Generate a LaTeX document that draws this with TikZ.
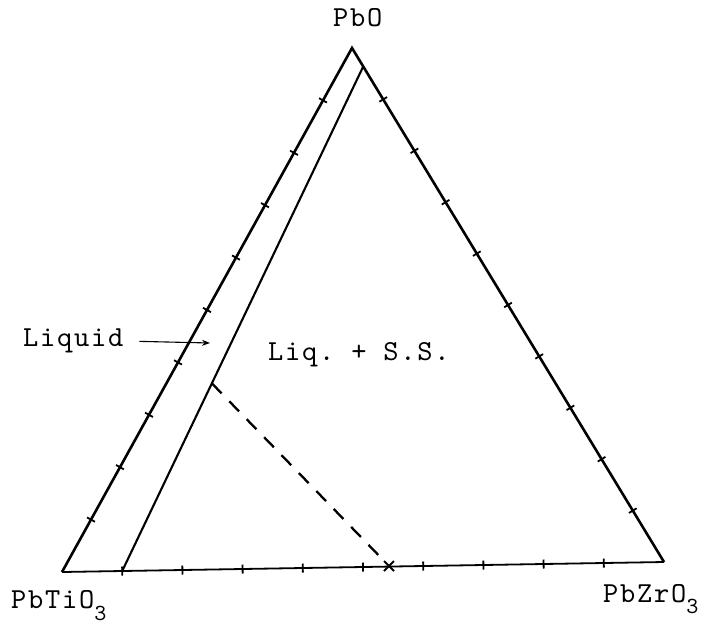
\documentclass[tikz,border=0pt]{standalone}
\usepackage{fontspec}
\setmonofont{lmmono10-regular.otf}[LetterSpace=6]
\usetikzlibrary{calc,arrows.meta}
\newcommand{\twfont}[1]{\ttfamily\fontsize{#1}{#1}\selectfont}
\begin{document}
\begin{tikzpicture}[x=1pt,y=-1pt,
  side/.style={line width=2.6pt,line join=miter},
  base/.style={line width=1.8pt},
  inner/.style={line width=2.1pt},
  tickmark/.style={line width=1.8pt},
  lbl/.style={inner sep=0pt,anchor=base west,font=\twfont{29}}]
\useasboundingbox (0,0) rectangle (706,629);
\fill[white] (0,0) rectangle (706,629);
% vertices
\coordinate (top) at (352,48);
\coordinate (bl) at (62,572);
\coordinate (br) at (664,562);
% triangle
\draw[side] (bl) -- (top) -- (br);
\draw[base] (bl) -- (br);
% inner boundary line
\coordinate (itop) at ($(top)!0.036!(br)$);
\coordinate (ibot) at ($(bl)!0.1!(br)$);
\draw[inner] (itop) -- (ibot);
% ticks
\foreach \k in {1,...,9}{
  \coordinate (pl) at ($(bl)!\k/10!(top)$);
  \draw[tickmark] ($(pl)!4.5pt!90:(top)$) -- ($(pl)!4.5pt!-90:(top)$);
  \coordinate (pr) at ($(top)!\k/10!(br)$);
  \draw[tickmark] ($(pr)!4.5pt!90:(br)$) -- ($(pr)!4.5pt!-90:(br)$);
  \coordinate (pb) at ($(bl)!\k/10!(br)$);
  \draw[tickmark] ($(pb)!4.5pt!90:(br)$) -- ($(pb)!4.5pt!-90:(br)$);
}
% dashed tie line
\coordinate (dstart) at ($(itop)!0.628!(ibot)$);
\coordinate (xm) at (389,566);
\draw[line width=2.3pt,dash pattern=on 14pt off 11pt] (dstart) -- ($(dstart)!0.95!(xm)$);
\draw[line width=1.8pt] ($(xm)+(-5,-5)$) -- ($(xm)+(5,5)$) ($(xm)+(5,-5)$) -- ($(xm)+(-5,5)$);
% labels
\node[lbl] (pbo) at (333,26) {PbO};
\node[lbl] (pbti) at (11,608) {PbTiO\raisebox{-0.42em}{\twfont{23}3}};
\node[lbl] (pbzr) at (603,602) {PbZrO\raisebox{-0.40em}{\twfont{23}3}};
\node[lbl] (liquid) at (23,346) {Liquid};
\node[lbl] (liqss) at (268,360) {Liq. + S.S.};
\coordinate (arrend) at (210,343);
\draw[line width=1.1pt,-{Stealth[length=8pt,width=6pt]}] ($(liquid.east)+(16,1)$) -- (arrend);
\end{tikzpicture}
\end{document}
